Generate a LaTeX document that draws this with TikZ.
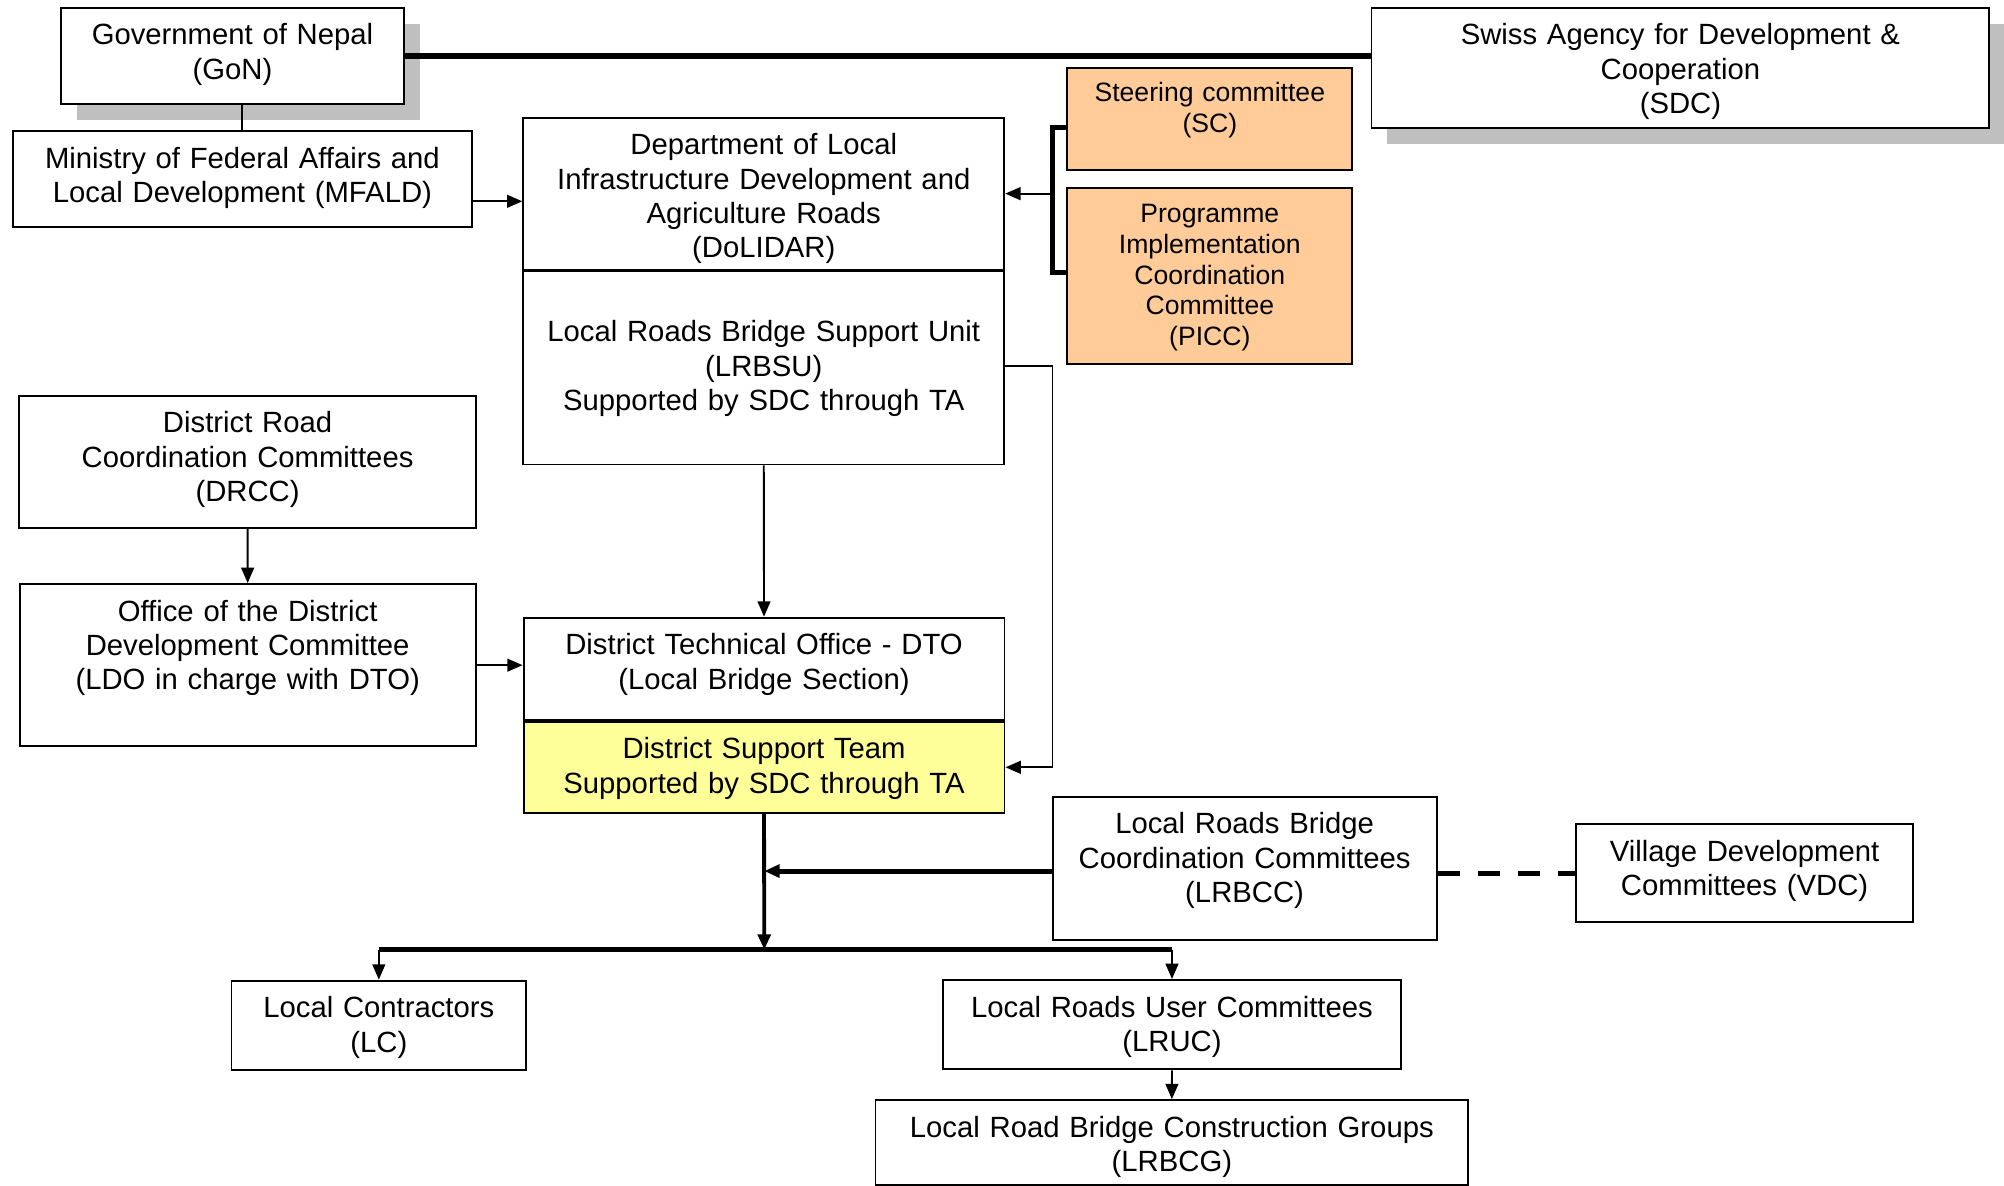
\documentclass[tikz,border=0pt]{standalone}
\usepackage{fontspec}
\setmainfont{Liberation Sans}
\usetikzlibrary{arrows.meta,shadows}
\definecolor{scfill}{RGB}{255,204,153}
\definecolor{dstfill}{RGB}{255,255,153}

\begin{document}
\begin{tikzpicture}[x=1pt,y=1pt]
\tikzstyle{every node}+=[inner sep=0pt,font=\fontsize{22.9}{26.9}\selectfont]
\tikzstyle{box}=[draw=black,line width=1.5pt,fill=white,anchor=north,align=center,text height=29pt]
\tikzstyle{shadowbox}=[box,drop shadow={shadow xshift=12.5pt,shadow yshift=-12.5pt,fill=black!25,opacity=1}]
\tikzstyle{smalltext}=[font=\fontsize{20.8}{24}\selectfont]
\tikzstyle{link}=[black,line width=1.5pt]
\tikzstyle{heavy}=[black,line width=4pt]
\tikzstyle{arrowed}=[-{Triangle[length=12pt,width=10pt]}]
\useasboundingbox (0,0) rectangle (1568,-927.2);
\node [shadowbox,text width=268pt,text depth=46.7pt] (gon) at (181.9,-5.2) {Government of Nepal\\(GoN)};
\node [shadowbox,text width=483.4pt,text depth=65.4pt] (sdc) at (1314.8,-5.2) {Swiss Agency for Development \&\\Cooperation\\(SDC)};
\node [box,text width=359.3pt,text depth=46.1pt] (mfald) at (189.7,-101.7) {Ministry of Federal Affairs and\\Local Development (MFALD)};
\node [box,text width=376.3pt,text depth=89.9pt] (dolidar) at (597.6,-91.3) {Department of Local\\Infrastructure Development and\\Agriculture Roads\\(DoLIDAR)};
\node [box,text width=376.3pt,text height=55pt,text depth=96pt] (lrbsu) at (dolidar.south) {Local Roads Bridge Support Unit\\(LRBSU)\\Supported by SDC through TA};
\node [box,smalltext,fill=scfill,text width=222.9pt,text height=26.5pt,text depth=53.5pt] (sc) at (946.6,-52.2) {Steering committee\\(SC)};
\node [box,smalltext,fill=scfill,text width=222.9pt,text height=27.5pt,text depth=110.7pt] (picc) at (946.6,-146.1) {Programme\\Implementation\\Coordination\\Committee\\(PICC)};
\node [box,text width=357.3pt,text depth=74.3pt] (drcc) at (193.7,-309) {District Road\\Coordination Committees\\(DRCC)};
\node [box,text width=356.8pt,text depth=98pt] (ldo) at (193.8,-456.2) {Office of the District\\Development Committee\\(LDO in charge with DTO)};
\node [box,text width=376.3pt,text depth=51.1pt] (dto) at (597.8,-482.5) {District Technical Office - DTO\\(Local Bridge Section)};
\node [box,fill=dstfill,text width=376.3pt,text depth=42pt] (dst) at (dto.south) {District Support Team\\Supported by SDC through TA};
\node [box,text width=300.5pt,text depth=83.4pt] (lrbcc) at (973.8,-622.6) {Local Roads Bridge\\Coordination Committees\\(LRBCC)};
\node [box,text width=263.1pt,text depth=47.5pt] (vdc) at (1365,-644.2) {Village Development\\Committees (VDC)};
\node [box,text width=230.6pt,text depth=41.1pt] (lc) at (296.4,-766.5) {Local Contractors\\(LC)};
\node [box,text width=357.7pt,text depth=41pt] (lruc) at (917,-766) {Local Roads User Committees\\(LRUC)};
\node [box,text width=463.8pt,text depth=37.4pt] (lrbcg) at (916.9,-860) {Local Road Bridge Construction Groups\\(LRBCG)};
\coordinate (brk) at ([xshift=37pt]dolidar.east);
\coordinate (mfaldout) at ([yshift=-17.5pt]mfald.east);
\coordinate (lrbsuout) at ([yshift=1.5pt]lrbsu.east);
\coordinate (lrbccout) at ([yshift=-2pt]lrbcc.west);
\coordinate (bus) at (598,-743);
\draw [heavy] (gon.east) -- (gon.east -| sdc.west);
\draw [link] (mfald.north) -- (mfald.north |- gon.south);
\draw [link,arrowed] (mfaldout) -- (mfaldout -| dolidar.west);
\draw [heavy,line join=miter] ([yshift=-6.8pt]sc.west) -| (brk) |- ([yshift=2.6pt]picc.west);
\draw [link,arrowed] (brk) -- (dolidar.east);
\draw [link,arrowed] (lrbsuout) -- (lrbsuout -| brk) |- (dst.east);
\draw [link,arrowed] (lrbsu.south) -- (dto.north);
\draw [link,arrowed] (drcc.south) -- (ldo.north);
\draw [link,arrowed] (ldo.east) -- (ldo.east -| dto.west);
\draw [heavy,line width=3pt,arrowed] (dst.south) -- (bus);
\draw [heavy,arrowed] (lrbccout) -- (lrbccout -| bus);
\draw [heavy,dash pattern=on 17.5pt off 14pt] (lrbcc.east |- vdc.west) -- (vdc.west);
\draw [heavy] (lc.north |- bus) -- (lruc.north |- bus);
\draw [link,arrowed] (lc.north |- bus) -- (lc.north);
\draw [link,arrowed] (lruc.north |- bus) -- (lruc.north);
\draw [link,arrowed] (lruc.south) -- (lrbcg.north);
\end{tikzpicture}
\end{document}
